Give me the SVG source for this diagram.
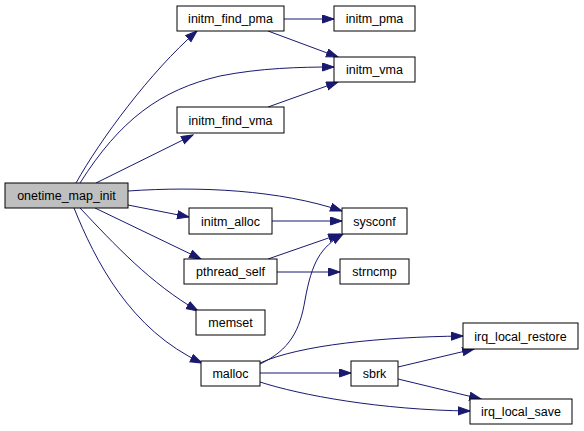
<svg xmlns="http://www.w3.org/2000/svg" width="584" height="431" viewBox="0 0 584 431">
<style>
.n rect{fill:#ffffff;stroke:#000000;stroke-width:1}
.n.root rect{fill:#bfbfbf}
.n text{font-family:"Liberation Sans",Arial,sans-serif;font-size:12.5px;fill:#000000;text-anchor:middle}
.e path{fill:none;stroke:#191970;stroke-width:1;marker-end:url(#ah)}
</style>
<defs>
<marker id="ah" markerUnits="userSpaceOnUse" markerWidth="13" markerHeight="10" refX="12" refY="4.5" orient="auto">
<path d="M0.5,0.5 L12,4.5 L0.5,8.5 z" fill="#191970" stroke="#191970" stroke-width="1"/>
</marker>
</defs>
<rect width="584" height="431" fill="#ffffff"/>
<g id="connectors" class="e">
<path d="M76,183 C100,140 150,72 197,31"/>
<path d="M80,183 C120,120 160,90 220,76 C260,68 300,67 334,67"/>
<path d="M96,183 L193,135"/>
<path d="M128,191 C200,186 280,190 342,211"/>
<path d="M128,205 L189,217"/>
<path d="M95,208 L201,259"/>
<path d="M80,208 C115,245 150,283 198,311"/>
<path d="M74,208 C95,260 130,330 202,363"/>
<path d="M284,19 L334,19"/>
<path d="M268,31 L338,57"/>
<path d="M268,107 L338,82"/>
<path d="M272,221 L342,221"/>
<path d="M268,259 L340,234"/>
<path d="M277,272 L340,272"/>
<path d="M260,364 C290,350 300,330 305,300 C312,262 320,248 343,234"/>
<path d="M260,363 C300,345 380,337 463,336"/>
<path d="M260,373 L351,373"/>
<path d="M260,382 C300,395 380,410 470,411"/>
<path d="M398,367 L474,349"/>
<path d="M398,379 L481,399"/>
</g>
<g id="onetime_map_init" class="n root"><rect x="5" y="183" width="123" height="25"/><text x="66.5" y="200">onetime_map_init</text></g>
<g id="initm_find_pma" class="n"><rect x="177" y="6" width="107" height="25"/><text x="230.5" y="23">initm_find_pma</text></g>
<g id="initm_find_vma" class="n"><rect x="177" y="107" width="107" height="26"/><text x="230.5" y="124.5">initm_find_vma</text></g>
<g id="initm_alloc" class="n"><rect x="189" y="208" width="83" height="26"/><text x="230.5" y="225.5">initm_alloc</text></g>
<g id="pthread_self" class="n"><rect x="184" y="259" width="93" height="25"/><text x="230.5" y="276">pthread_self</text></g>
<g id="memset" class="n"><rect x="196" y="310" width="69" height="25"/><text x="230.5" y="327">memset</text></g>
<g id="malloc" class="n"><rect x="201" y="361" width="59" height="25"/><text x="230.5" y="378">malloc</text></g>
<g id="initm_pma" class="n"><rect x="334" y="6" width="81" height="25"/><text x="374.5" y="23">initm_pma</text></g>
<g id="initm_vma" class="n"><rect x="334" y="57" width="81" height="25"/><text x="374.5" y="74">initm_vma</text></g>
<g id="sysconf" class="n"><rect x="342" y="208" width="65" height="26"/><text x="374.5" y="225.5">sysconf</text></g>
<g id="strncmp" class="n"><rect x="340" y="259" width="69" height="25"/><text x="374.5" y="276">strncmp</text></g>
<g id="sbrk" class="n"><rect x="351" y="361" width="47" height="25"/><text x="374.5" y="378">sbrk</text></g>
<g id="irq_local_restore" class="n"><rect x="463" y="323" width="115" height="26"/><text x="520.5" y="340.5">irq_local_restore</text></g>
<g id="irq_local_save" class="n"><rect x="470" y="399" width="102" height="25"/><text x="521" y="416">irq_local_save</text></g>
</svg>
